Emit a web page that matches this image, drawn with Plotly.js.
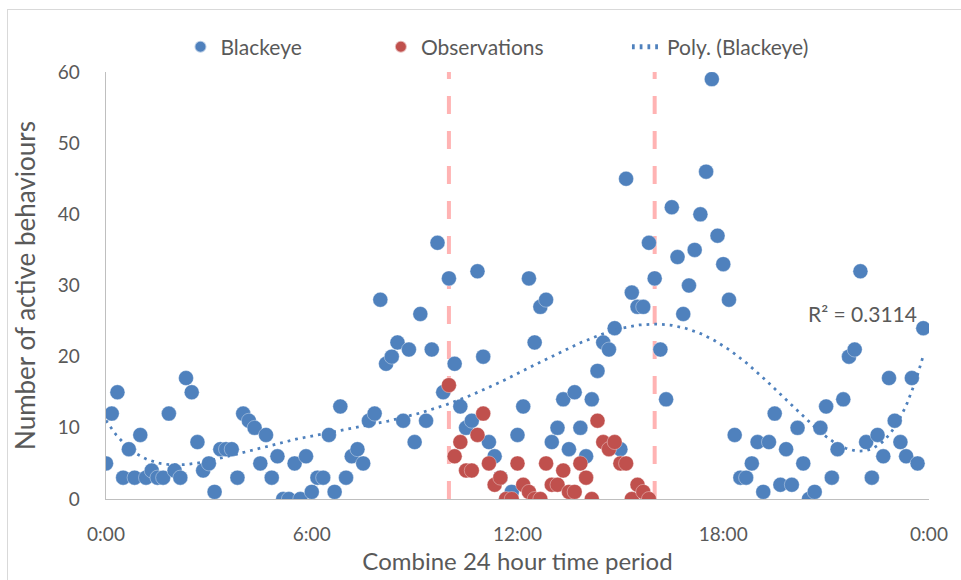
<!DOCTYPE html>
<html>
<head>
<meta charset="utf-8">
<script src="https://cdn.plot.ly/plotly-3.0.1.min.js"></script>
<style>
  html, body { margin: 0; padding: 0; background: #ffffff; }
  #frame { position: absolute; left: 7px; top: 9px; width: 970px; height: 580px; border: 1px solid #d9d9d9; box-sizing: border-box; }
  #chart { position: absolute; left: 0; top: 0; width: 961px; height: 580px; }
</style>
</head>
<body>
<div id="frame"></div>
<div id="chart"></div>
<script>
// ---- Data ----
const blackeyeTimes = [
  "0:00","0:10","0:20","0:30","0:40","0:50",
  "1:00","1:10","1:20","1:30","1:40","1:50",
  "2:00","2:10","2:20","2:30","2:40","2:50",
  "3:00","3:10","3:20","3:30","3:40","3:50",
  "4:00","4:10","4:20","4:30","4:40","4:50",
  "5:00","5:10","5:20","5:30","5:40","5:50",
  "6:00","6:10","6:20","6:30","6:40","6:50",
  "7:00","7:10","7:20","7:30","7:40","7:50",
  "8:00","8:10","8:20","8:30","8:40","8:50",
  "9:00","9:10","9:20","9:30","9:40","9:50",
  "10:00","10:10","10:20","10:30","10:40","10:50",
  "11:00","11:10","11:20","11:30","11:40","11:50",
  "12:00","12:10","12:20","12:30","12:40","12:50",
  "13:00","13:10","13:20","13:30","13:40","13:50",
  "14:00","14:10","14:20","14:30","14:40","14:50",
  "15:00","15:10","15:20","15:30","15:40","15:50",
  "16:00","16:10","16:20","16:30","16:40","16:50",
  "17:00","17:10","17:20","17:30","17:40","17:50",
  "18:00","18:10","18:20","18:30","18:40","18:50",
  "19:00","19:10","19:20","19:30","19:40","19:50",
  "20:00","20:10","20:20","20:30","20:40","20:50",
  "21:00","21:10","21:20","21:30","21:40","21:50",
  "22:00","22:10","22:20","22:30","22:40","22:50",
  "23:00","23:10","23:20","23:30","23:40","23:50"
];
const blackeyeValues = [
  5,12,15,3,7,3,
  9,3,4,3,3,12,
  4,3,17,15,8,4,
  5,1,7,7,7,3,
  12,11,10,5,9,3,
  6,0,0,5,0,6,
  1,3,3,9,1,13,
  3,6,7,5,11,12,
  28,19,20,22,11,21,
  8,26,11,21,36,15,
  31,19,13,10,11,32,
  20,8,6,3,0,1,
  9,13,31,22,27,28,
  8,10,14,7,15,10,
  6,14,18,22,21,24,
  7,45,29,27,27,36,
  31,21,14,41,34,26,
  30,35,40,46,59,37,
  33,28,9,3,3,5,
  8,1,8,12,2,7,
  2,10,5,0,1,10,
  13,3,7,14,20,21,
  32,8,3,9,6,17,
  11,8,6,17,5,24
];
const observationTimes = [
  "10:00","10:10","10:20","10:30","10:40","10:50",
  "11:00","11:10","11:20","11:30","11:40","11:50",
  "12:00","12:10","12:20","12:30","12:40","12:50",
  "13:00","13:10","13:20","13:30","13:40","13:50",
  "14:00","14:10","14:20","14:30","14:40","14:50",
  "15:00","15:10","15:20","15:30","15:40","15:50"
];
const observationValues = [
  16,6,8,4,4,9,
  12,5,2,3,0,0,
  5,2,1,0,0,5,
  2,2,4,1,1,5,
  3,0,11,8,7,8,
  5,5,0,2,1,0
];
const observationWindow = ["10:00", "16:00"];
const xTickTimes = ["0:00","6:00","12:00","18:00","24:00"];
const xTickLabels = ["0:00","6:00","12:00","18:00","0:00"];
const yTicks = [0,10,20,30,40,50,60];
const rSquaredLabel = "R² = 0.3114";
const polyOrder = 6;

// ---- helpers ----
function toHours(t) { const p = t.split(":"); return (+p[0]) + (+p[1]) / 60; }

function polyfit(xs, ys, deg) {
  const n = deg + 1;
  const A = [], b = [];
  for (let i = 0; i < n; i++) { A.push(new Array(n).fill(0)); b.push(0); }
  for (let k = 0; k < xs.length; k++) {
    const pw = [1];
    for (let i = 1; i < 2 * n; i++) pw.push(pw[i - 1] * xs[k]);
    for (let i = 0; i < n; i++) {
      b[i] += pw[i] * ys[k];
      for (let j = 0; j < n; j++) A[i][j] += pw[i + j];
    }
  }
  for (let c = 0; c < n; c++) {
    let piv = c;
    for (let r = c + 1; r < n; r++) if (Math.abs(A[r][c]) > Math.abs(A[piv][c])) piv = r;
    [A[c], A[piv]] = [A[piv], A[c]]; [b[c], b[piv]] = [b[piv], b[c]];
    for (let r = c + 1; r < n; r++) {
      const f = A[r][c] / A[c][c];
      for (let j = c; j < n; j++) A[r][j] -= f * A[c][j];
      b[r] -= f * b[c];
    }
  }
  const coef = new Array(n).fill(0);
  for (let r = n - 1; r >= 0; r--) {
    let s = b[r];
    for (let j = r + 1; j < n; j++) s -= A[r][j] * coef[j];
    coef[r] = s / A[r][r];
  }
  return coef;
}
function polyval(coef, x) { let s = 0; for (let i = coef.length - 1; i >= 0; i--) s = s * x + coef[i]; return s; }

const bx = blackeyeTimes.map(toHours);
const ox = observationTimes.map(toHours);
const norm = h => (h - 12) / 12;
const coef = polyfit(bx.map(norm), blackeyeValues, polyOrder);
const xMin = Math.min(...bx), xMax = Math.max(...bx);
const trendX = [], trendY = [];
for (let i = 0; i <= 400; i++) {
  const h = xMin + (xMax - xMin) * i / 400;
  trendX.push(h); trendY.push(polyval(coef, norm(h)));
}

const FONT = "Lato, 'Open Sans', sans-serif";
const GREY = "#595959";

const traces = [
  {
    type: "scatter", mode: "markers", name: "Blackeye",
    x: bx, y: blackeyeValues,
    marker: { color: "#4f81bd", size: 15, line: { color: "rgba(255,255,255,0.6)", width: 0.6 } },
    legend: "legend", hoverinfo: "x+y"
  },
  {
    type: "scatter", mode: "markers", name: "Observations",
    x: ox, y: observationValues,
    marker: { color: "#c0504d", size: 15, line: { color: "rgba(255,255,255,0.6)", width: 0.6 } },
    legend: "legend2", hoverinfo: "x+y"
  },
  {
    type: "scatter", mode: "lines", name: "Poly. (Blackeye)",
    x: trendX, y: trendY,
    line: { color: "#4f81bd", width: 2.75, dash: "2.75px,5px" },
    legend: "legend3", hoverinfo: "skip"
  }
];

const w0 = toHours(observationWindow[0]), w1 = toHours(observationWindow[1]);
const vline = x => ({
  type: "line", xref: "x", yref: "y", x0: x, x1: x, y0: 0, y1: 60,
  line: { color: "#ffb3b3", width: 4, dash: "18px,17px" }, layer: "below"
});

const legendCommon = {
  orientation: "h", yanchor: "middle", y: 1.0585, xanchor: "left",
  font: { family: FONT, size: 21, color: GREY }, bgcolor: "rgba(0,0,0,0)",
  itemsizing: "constant"
};

const layout = {
  width: 961, height: 580,
  margin: { l: 106, r: 32, t: 72, b: 81 },
  paper_bgcolor: "rgba(0,0,0,0)", plot_bgcolor: "rgba(0,0,0,0)",
  font: { family: FONT, color: GREY },
  showlegend: true,
  legend: Object.assign({}, legendCommon, { x: 0.0905 }),
  legend2: Object.assign({}, legendCommon, { x: 0.334 }),
  legend3: Object.assign({}, legendCommon, { x: 0.633 }),
  xaxis: {
    range: [0, 24], tickvals: xTickTimes.map(toHours), ticktext: xTickLabels,
    showgrid: false, zeroline: false, showline: true, linecolor: "#bfbfbf", linewidth: 1.3,
    ticks: "", ticklabelstandoff: 18,
    tickfont: { family: FONT, size: 19, color: GREY },
    title: { text: "Combine 24 hour time period", font: { family: FONT, size: 24, color: GREY }, standoff: 9 },
    automargin: false, fixedrange: true
  },
  yaxis: {
    range: [0, 60], tickvals: yTicks,
    showgrid: false, zeroline: false, showline: true, linecolor: "#bfbfbf", linewidth: 1.3,
    ticks: "", ticklabelstandoff: 21,
    tickfont: { family: FONT, size: 19, color: GREY },
    title: { text: "Number of active behaviours", font: { family: FONT, size: 26, color: GREY }, standoff: 14 },
    automargin: false, fixedrange: true
  },
  shapes: [vline(w0), vline(w1)],
  annotations: [{
    x: 20.42, y: 26.1, xref: "x", yref: "y", xanchor: "left", yanchor: "middle",
    text: rSquaredLabel, showarrow: false, font: { family: FONT, size: 21, color: GREY }
  }]
};

Plotly.newPlot("chart", traces, layout, { displayModeBar: false, staticPlot: true });
</script>
</body>
</html>
